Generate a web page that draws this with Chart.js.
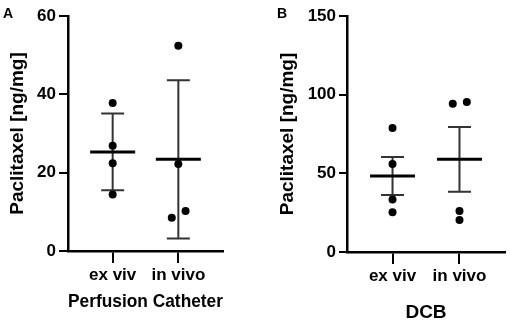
<!DOCTYPE html>
<html>
<head>
<meta charset="utf-8">
<script src="https://cdn.jsdelivr.net/npm/chart.js@4.4.1/dist/chart.umd.min.js"></script>
<style>
  html, body { margin: 0; padding: 0; background: #fff; }
  #wrap { position: relative; width: 510px; height: 324px; }
  .panel { position: absolute; top: 0; width: 255px; height: 324px; }
  .tag { position: absolute; font: bold 14px 'Liberation Sans', Arial, sans-serif; color: #000; }
</style>
</head>
<body>
<div id="wrap">
  <div class="panel" style="left:0"><canvas id="chartA" width="255" height="324"></canvas></div>
  <div class="panel" style="left:255px"><canvas id="chartB" width="255" height="324"></canvas></div>
  <div class="tag" style="left:3px;top:5px">A</div>
  <div class="tag" style="left:277px;top:5px">B</div>
</div>
<script>
var groups = ['ex viv', 'in vivo'];

// Panel A - Perfusion Catheter (mean +/- SD)
var exVivA = [37.8, 26.9, 22.4, 14.4];
var inVivoA = [52.4, 22.2, 8.5, 10.2];
var meanA = [25.3, 23.4];
var errA = [9.8, 20.2];
var ticksA = [0, 20, 40, 60];

// Panel B - DCB (mean +/- SEM)
var exVivB = [78.8, 55.9, 33.3, 25.2];
var inVivoB = [94.3, 95.4, 26.1, 20.3];
var meanB = [48.3, 58.9];
var errB = [12.1, 20.6];
var ticksB = [0, 50, 100, 150];

// little sideways shift so overlapping dots stay visible
var jitterA = [[0, 0, 0, 0], [0, 0, -0.1, 0.11]];
var jitterB = [[0, 0, 0, 0], [-0.1, 0.11, 0, 0]];

Chart.defaults.font.family = "'Liberation Sans', Arial, sans-serif";
Chart.defaults.font.weight = 'bold';
Chart.defaults.color = '#000';

// mean line + error bars, drawn under the dots
var meanSdPlugin = {
	id: 'meanSd',
	beforeDatasetsDraw: function(chart, args, opts) {
		var ctx = chart.ctx, xs = chart.scales.x, ys = chart.scales.y;
		ctx.save();
		for (var i = 0; i < opts.mean.length; i++) {
			var cx = xs.getPixelForValue(i + 1);
			var top = ys.getPixelForValue(opts.mean[i] + opts.err[i]);
			var bot = ys.getPixelForValue(opts.mean[i] - opts.err[i]);
			var m = ys.getPixelForValue(opts.mean[i]);
			ctx.strokeStyle = '#333';
			ctx.lineWidth = 2;
			ctx.beginPath();
			ctx.moveTo(cx, top); ctx.lineTo(cx, bot);
			ctx.moveTo(cx - 11.5, top); ctx.lineTo(cx + 11.5, top);
			ctx.moveTo(cx - 11.5, bot); ctx.lineTo(cx + 11.5, bot);
			ctx.stroke();
			ctx.strokeStyle = '#000';
			ctx.lineWidth = 3;
			ctx.beginPath();
			ctx.moveTo(cx - 22.5, m); ctx.lineTo(cx + 22.5, m);
			ctx.stroke();
		}
		ctx.restore();
	}
};

function points(values, cat, jit) {
	return values.map(function(v, i) { return { x: cat + jit[i], y: v }; });
}

function makeChart(id, p) {
	return new Chart(document.getElementById(id), {
		type: 'scatter',
		data: {
			datasets: [
				{ data: points(p.ex, 1, p.jit[0]) },
				{ data: points(p.inv, 2, p.jit[1]) }
			]
		},
		options: {
			responsive: false,
			animation: false,
			elements: { point: { radius: 4, backgroundColor: '#000', borderWidth: 0 } },
			layout: { padding: { top: p.padTop, right: p.padRight, left: 0, bottom: 0 } },
			plugins: {
				legend: { display: false },
				tooltip: { enabled: false },
				meanSd: { mean: p.mean, err: p.err }
			},
			scales: {
				x: {
					type: 'linear',
					min: 0.32,
					max: 2.68,
					afterBuildTicks: function(s) { s.ticks = [{ value: 1 }, { value: 2 }]; },
					afterFit: function(s) { s.height = p.xHeight; },
					ticks: {
						callback: function(v) { return groups[v - 1]; },
						font: { size: 17, weight: 'bold' },
						padding: 2
					},
					grid: { drawOnChartArea: false, drawTicks: true, tickLength: 12, color: '#000', lineWidth: 2 },
					border: { color: '#000', width: 2.5 },
					title: {
						display: true,
						text: p.xTitle,
						font: { size: 19, weight: 'bold' },
						padding: { top: 0, bottom: p.xTitlePad }
					}
				},
				y: {
					min: p.yTicks[0],
					max: p.yTicks[p.yTicks.length - 1],
					afterBuildTicks: function(s) { s.ticks = p.yTicks.map(function(v) { return { value: v }; }); },
					afterFit: function(s) { s.width = p.yWidth; },
					ticks: { font: { size: 17, weight: 'bold' }, padding: 3 },
					grid: { drawOnChartArea: false, drawTicks: true, tickLength: p.yTickLen, color: '#000', lineWidth: 2 },
					border: { color: '#000', width: 2.5 },
					title: {
						display: true,
						text: 'Paclitaxel [ng/mg]',
						font: { size: 19, weight: 'bold' },
						padding: { top: p.yTitlePad, bottom: 0 }
					}
				}
			}
		},
		plugins: [meanSdPlugin]
	});
}

makeChart('chartA', {
	ex: exVivA, inv: inVivoA, jit: jitterA, mean: meanA, err: errA, yTicks: ticksA,
	xTitle: 'Perfusion Catheter', padTop: 16, padRight: 32, xHeight: 73, yWidth: 68,
	xTitlePad: 11, yTitlePad: 6, yTickLen: 9
});
makeChart('chartB', {
	ex: exVivB, inv: inVivoB, jit: jitterB, mean: meanB, err: errB, yTicks: ticksB,
	xTitle: 'DCB', padTop: 16, padRight: 5, xHeight: 72, yWidth: 92,
	xTitlePad: 0, yTitlePad: 21, yTickLen: 8
});
</script>
</body>
</html>
